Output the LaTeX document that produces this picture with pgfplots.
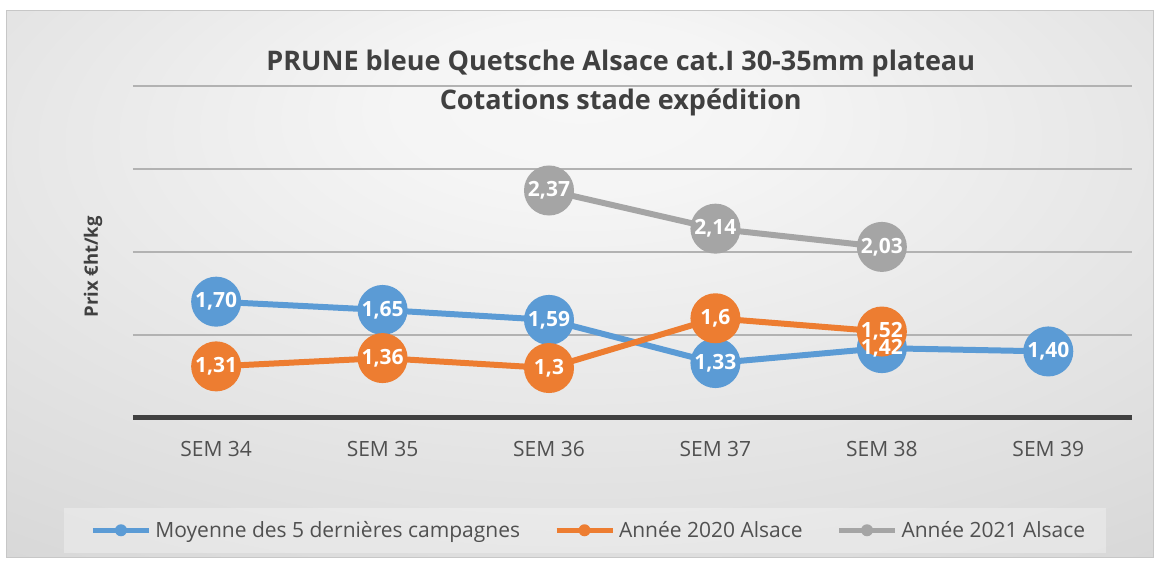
\documentclass[border=0pt]{standalone}
\usepackage{pgfplots}
\pgfplotsset{compat=1.18}
\usepackage{fontspec}
\setmainfont{Open Sans}
\definecolor{sblue}{HTML}{5B9BD5}
\definecolor{sorange}{HTML}{ED7D31}
\definecolor{sgray}{HTML}{A5A5A5}
\definecolor{txt}{HTML}{404040}
\definecolor{ltxt}{HTML}{505050}
\pgfdeclareradialshading{bgshade}{\pgfpoint{0bp}{18bp}}{color(0bp)=(white!97!black); color(8bp)=(white!96!black); color(62bp)=(black!22); color(80bp)=(black!22)}
\begin{document}
\begin{tikzpicture}
\path[fill=white] (-133pt,-144pt) rectangle (1021pt,418pt);
\path[shading=bgshade] (-126pt,-140pt) rectangle (1021pt,407pt);
\draw[black!22, line width=1pt] (-126pt,-140pt) rectangle (1021pt,407pt);
\fill[white, opacity=0.3] (-69pt,-135pt) rectangle (973pt,-90pt);
\node[anchor=base, font=\bfseries\fontsize{27}{32}\selectfont, text=txt] at (488pt,347pt) {PRUNE bleue Quetsche Alsace cat.I 30-35mm plateau};
\node[anchor=base, font=\bfseries\fontsize{27}{32}\selectfont, text=txt] at (488pt,308pt) {Cotations stade expédition};
\node[rotate=90, font=\bfseries\fontsize{18.5}{22}\selectfont, text=txt] at (-40pt,151pt) {Prix €ht/kg};
\begin{axis}[
  at={(0pt,0pt)}, anchor=south west,
  scale only axis, width=999pt, height=332pt,
  xmin=33.5, xmax=39.5, ymin=1, ymax=3,
  axis line style={draw=none},
  xtick={34,35,36,37,38,39},
  xticklabels={SEM 34,SEM 35,SEM 36,SEM 37,SEM 38,SEM 39},
  xticklabel style={anchor=center, yshift=-31pt, font=\fontsize{21}{25}\selectfont, text=ltxt},
  major tick length=0pt,
  ytick={1.5,2},
  yticklabels={},
  ymajorgrids,
  major grid style={line width=2pt, color=black!30},
  extra y ticks={2.5,3},
  extra y tick labels={},
  extra y tick style={grid style={line width=2pt, color=black!13}},
  clip=false,
  legend columns=-1,
  legend cell align=left,
  legend style={at={(axis description cs:0.4555,-0.3389)}, anchor=center, draw=none, fill=none,
    font=\fontsize{21}{25}\selectfont, text=ltxt, inner xsep=0pt, inner ysep=0pt,
    nodes={inner sep=0pt},
    /tikz/every odd column/.append style={column sep=4pt},
    /tikz/every even column/.append style={column sep=34pt}},
]
\draw[line width=5pt, color=black!75] (rel axis cs:0,0) -- (rel axis cs:1,0);
\addplot[sblue, line width=6pt, mark=*, mark size=22pt, mark options={draw=none, fill=sblue},
  legend image code/.code={\draw[sblue, line width=5pt] (0pt,0pt) -- (56pt,0pt); \path[fill=sblue, draw=none] (28pt,0pt) circle (6pt);}]
  table {
x y
34 1.70
35 1.65
36 1.59
37 1.33
38 1.42
39 1.40
};
\addlegendentry{Moyenne des 5 dernières campagnes}
\addplot[sorange, line width=6pt, mark=*, mark size=22pt, mark options={draw=none, fill=sorange},
  legend image code/.code={\draw[sorange, line width=5pt] (0pt,0pt) -- (56pt,0pt); \path[fill=sorange, draw=none] (28pt,0pt) circle (6pt);}]
  table {
x y
34 1.31
35 1.36
36 1.30
37 1.60
38 1.52
};
\addlegendentry{Année 2020 Alsace}
\addplot[sgray, line width=6pt, mark=*, mark size=22pt, mark options={draw=none, fill=sgray},
  legend image code/.code={\draw[sgray, line width=5pt] (0pt,0pt) -- (56pt,0pt); \path[fill=sgray, draw=none] (28pt,0pt) circle (6pt);}]
  table {
x y
36 2.37
37 2.14
38 2.03
};
\addlegendentry{Année 2021 Alsace}
\pgfplotsset{lbl/.style={forget plot, draw=none, mark=none, point meta=explicit symbolic, nodes near coords,
  nodes near coords align=center,
  every node near coord/.append style={anchor=center, text=white, font=\bfseries\fontsize{21}{25}\selectfont, inner sep=0pt}}}
\addplot[lbl] table[meta=lab] {
x y lab
34 1.70 1,70
35 1.65 1,65
36 1.59 1,59
37 1.33 1,33
38 1.42 1,42
39 1.40 1,40
};
\addplot[lbl] table[meta=lab] {
x y lab
34 1.31 1,31
35 1.36 1,36
36 1.30 1,3
37 1.60 1,6
38 1.52 1,52
};
\addplot[lbl] table[meta=lab] {
x y lab
36 2.37 2,37
37 2.14 2,14
38 2.03 2,03
};
\end{axis}
\end{tikzpicture}
\end{document}
